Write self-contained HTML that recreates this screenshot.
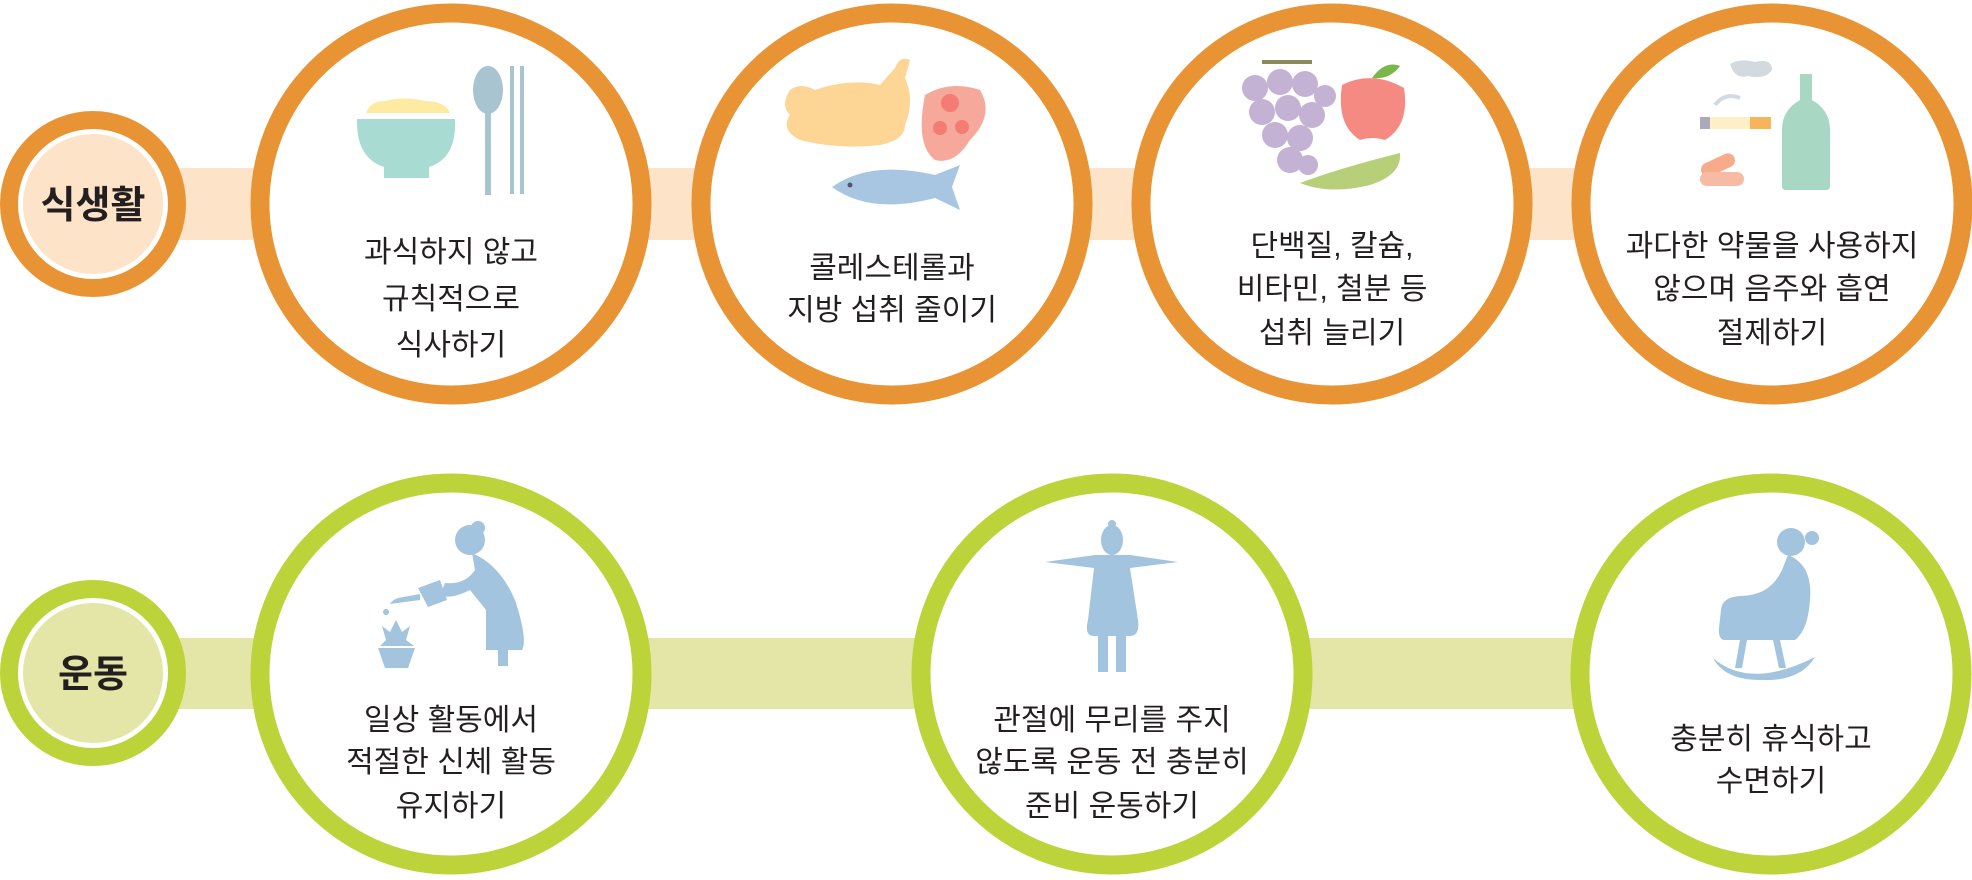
<!DOCTYPE html>
<html><head><meta charset="utf-8"><style>
html,body{margin:0;padding:0;background:#fff;}
body{width:1972px;height:875px;overflow:hidden;}
svg text{font-family:"Liberation Sans","Noto Sans CJK KR",sans-serif;}
</style></head><body>
<svg width="1972" height="875" viewBox="0 0 1972 875" xmlns="http://www.w3.org/2000/svg">
<!-- bands -->
<rect x="90" y="168" width="1700" height="72" fill="#fde3c8"/>
<rect x="90" y="638" width="1700" height="71" fill="#e3e6a6"/>

<!-- top row circles -->
<circle cx="93" cy="204" r="84" fill="#fff" stroke="#e89434" stroke-width="18"/>
<circle cx="93" cy="204" r="70" fill="#fde3c8"/>
<text x="93" y="218" font-size="38" font-weight="bold" text-anchor="middle" fill="#231f20">식생활</text>

<g fill="#fff" stroke="#e89434" stroke-width="19">
<circle cx="451" cy="204" r="191"/>
<circle cx="892" cy="204" r="191"/>
<circle cx="1332" cy="204" r="191"/>
<circle cx="1772" cy="204" r="191"/>
</g>

<!-- bottom row circles -->
<circle cx="93" cy="673" r="84" fill="#fff" stroke="#bdd33a" stroke-width="18"/>
<circle cx="93" cy="673" r="70" fill="#e3e6a6"/>
<text x="93" y="687" font-size="38" font-weight="bold" text-anchor="middle" fill="#231f20">운동</text>
<g fill="#fff" stroke="#bdd33a" stroke-width="19">
<circle cx="451" cy="674" r="191"/>
<circle cx="1112" cy="674" r="191"/>
<circle cx="1771" cy="674" r="191"/>
</g>

<!-- texts -->
<g font-size="30" text-anchor="middle" fill="#231f20">
<text x="451" y="262">과식하지 않고</text>
<text x="451" y="309">규칙적으로</text>
<text x="451" y="355">식사하기</text>
<text x="892" y="278">콜레스테롤과</text>
<text x="892" y="320">지방 섭취 줄이기</text>
<text x="1332" y="256">단백질, 칼슘,</text>
<text x="1332" y="299">비타민, 철분 등</text>
<text x="1332" y="343">섭취 늘리기</text>
<text x="1772" y="256">과다한 약물을 사용하지</text>
<text x="1772" y="299">않으며 음주와 흡연</text>
<text x="1772" y="343">절제하기</text>
<text x="451" y="730">일상 활동에서</text>
<text x="451" y="772">적절한 신체 활동</text>
<text x="451" y="816">유지하기</text>
<text x="1112" y="730">관절에 무리를 주지</text>
<text x="1112" y="772">않도록 운동 전 충분히</text>
<text x="1112" y="816">준비 운동하기</text>
<text x="1771" y="749">충분히 휴식하고</text>
<text x="1771" y="791">수면하기</text>
</g>

<!-- icon: rice bowl -->
<path d="M366 113 Q370 101 385 101 Q405 96 425 101 Q445 101 450 113 Z" fill="#feeaa0"/>
<path d="M357 119 L455 119 Q457 158 429 167 L429 178 L384 178 L384 167 Q356 158 357 119 Z" fill="#a8dcd2"/>
<ellipse cx="488" cy="90" rx="15" ry="24" fill="#a8c4d0"/>
<rect x="485" y="105" width="6" height="90" fill="#a8c4d0"/>
<rect x="510" y="66" width="4" height="128" fill="#a8c4d0"/>
<rect x="520" y="66" width="4" height="128" fill="#a8c4d0"/>

<!-- chicken, meat, fish -->
<path d="M790 90 Q800 82 815 90 Q850 78 880 85 L895 68 Q900 55 910 60 L905 78 Q915 100 905 125 Q905 140 880 145 Q840 150 800 140 Q780 130 790 115 Q780 105 790 90 Z" fill="#fdd594"/>
<path d="M925 95 Q950 80 980 90 Q995 115 970 140 Q955 165 935 160 Q915 145 925 95 Z" fill="#f6a99a"/>
<circle cx="950" cy="103" r="9" fill="#f47c74"/><circle cx="940" cy="128" r="7" fill="#f47c74"/><circle cx="962" cy="127" r="7" fill="#f47c74"/>
<path d="M832 187 Q870 160 935 175 L960 165 L952 187 L960 210 L935 198 Q870 215 832 187 Z" fill="#a8c6e2"/>
<circle cx="850" cy="185" r="2.5" fill="#556"/>

<!-- grapes, apple, cucumber -->
<rect x="1262" y="60" width="50" height="4" fill="#8a8a5a"/>
<g fill="#c3b2d4">
<circle cx="1255" cy="88" r="13"/><circle cx="1280" cy="82" r="13"/><circle cx="1305" cy="84" r="13"/><circle cx="1325" cy="96" r="11"/>
<circle cx="1262" cy="112" r="13"/><circle cx="1288" cy="108" r="13"/><circle cx="1312" cy="115" r="13"/>
<circle cx="1275" cy="135" r="13"/><circle cx="1300" cy="138" r="13"/><circle cx="1290" cy="160" r="13"/><circle cx="1308" cy="165" r="10"/>
</g>
<path d="M1342 85 Q1372 70 1404 88 Q1410 125 1385 140 Q1372 136 1360 140 Q1336 125 1342 85 Z" fill="#f48a82"/>
<path d="M1372 78 Q1385 60 1400 66 Q1390 80 1372 78 Z" fill="#7ab648"/>
<path d="M1300 183 Q1340 168 1400 153 Q1402 175 1370 185 Q1330 195 1300 183 Z" fill="#b8cf7a"/>

<!-- cigarette, pills, bottle -->
<path d="M1730 64 Q1740 58 1755 62 Q1772 58 1772 70 Q1765 80 1748 76 Q1735 80 1730 64 Z" fill="#d2dadf"/>
<path d="M1715 105 Q1725 92 1740 98" stroke="#d2dadf" stroke-width="4" fill="none"/>
<rect x="1700" y="117" width="10" height="12" fill="#aab"/>
<rect x="1710" y="117" width="40" height="12" fill="#fff0c8"/>
<rect x="1750" y="117" width="21" height="12" fill="#f6b55b"/>
<rect x="1700" y="158" width="36" height="14" rx="7" fill="#f7ab8b" transform="rotate(-25 1718 165)"/>
<rect x="1700" y="172" width="44" height="14" rx="7" fill="#f7bba5"/>
<path d="M1800 74 L1812 74 L1812 100 Q1830 110 1830 130 L1830 186 Q1830 190 1826 190 L1786 190 Q1782 190 1782 186 L1782 130 Q1782 110 1800 100 Z" fill="#a8d8c4"/>

<!-- gardener -->
<g fill="#a3c4de">
<circle cx="470" cy="540" r="15"/><circle cx="478" cy="528" r="7"/>
<path d="M472 553 Q500 565 515 600 Q528 640 522 650 L486 650 L486 610 L470 590 Q450 600 440 595 L445 583 Q465 585 475 570 Z"/>
<path d="M418 588 L440 580 L447 600 L428 607 Z"/>
<path d="M420 594 L398 598 Q392 600 390 604 L420 600 Z"/>
<rect x="498" y="648" width="10" height="18"/>
<path d="M378 648 L415 648 L408 668 L385 668 Z"/>
<path d="M396 620 L402 632 L410 626 L406 640 L414 646 L380 646 L386 640 L382 626 L390 632 Z"/>
<circle cx="386" cy="612" r="3"/>
</g>

<!-- person arms out -->
<g fill="#a3c4de">
<ellipse cx="1112" cy="540" rx="11" ry="15"/><circle cx="1112" cy="524" r="4"/>
<path d="M1045 562 L1095 555 L1130 555 L1178 562 L1130 568 L1138 620 Q1140 636 1130 636 L1094 636 Q1084 636 1088 620 L1094 568 Z"/>
<rect x="1098" y="634" width="10" height="38"/><rect x="1116" y="634" width="10" height="38"/>
</g>

<!-- rocking chair -->
<g fill="#a3c4de">
<circle cx="1791" cy="542" r="14"/><circle cx="1812" cy="538" r="7"/>
<path d="M1788 555 Q1813 565 1810 600 Q1808 630 1795 640 L1725 640 Q1718 640 1719 628 L1721 610 Q1722 597 1740 596 Q1770 596 1782 570 Z"/>
<path d="M1740 640 L1735 668 L1742 668 L1747 640 Z"/><path d="M1773 640 L1779 668 L1786 668 L1780 640 Z"/>
<path d="M1713 658 Q1750 690 1815 657 Q1800 682 1760 680 Q1725 680 1713 658 Z"/>
</g>
</svg>
</body></html>
